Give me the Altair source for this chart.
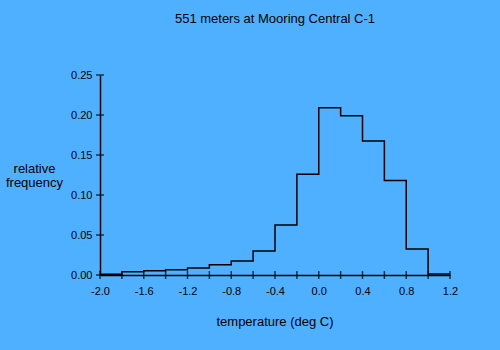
import altair as alt
import pandas as pd

# bin edges (deg C) and relative frequency of each bin
bin_starts = [-2.0, -1.8, -1.6, -1.4, -1.2, -1.0, -0.8, -0.6, -0.4, -0.2,
              0.0, 0.2, 0.4, 0.6, 0.8, 1.0]
bin_end = 1.2
freqs = [0.001, 0.0041, 0.0054, 0.0066, 0.0087, 0.0129, 0.0175, 0.030,
         0.0625, 0.126, 0.209, 0.199, 0.1675, 0.118, 0.0325, 0.0012]

x_ticks = [-2.0, -1.8, -1.6, -1.4, -1.2, -1.0, -0.8, -0.6, -0.4, -0.2,
           0.0, 0.2, 0.4, 0.6, 0.8, 1.0, 1.2]
x_labels = [-2.0, -1.6, -1.2, -0.8, -0.4, 0.0, 0.4, 0.8, 1.2]
y_ticks = [0.0, 0.05, 0.10, 0.15, 0.20, 0.25]

BG = "#4FB0FF"
FONT = "Liberation Sans"

step_df = pd.DataFrame({
    "temp": bin_starts + [bin_end],
    "freq": freqs + [freqs[-1]],
})
xt_df = pd.DataFrame({"temp": x_ticks})
yt_df = pd.DataFrame({"freq": y_ticks})

xscale = alt.Scale(domain=[-2.0, 1.2], nice=False, zero=False)
yscale = alt.Scale(domain=[0, 0.25], nice=False)

x_axis = alt.Axis(
    values=x_labels, ticks=False, grid=False,
    labelExpr="replace(format(datum.value, '.1f'), '\u2212', '-')",
    labelOverlap=False, labelFlush=False,
    domainColor="black", domainWidth=1.5, labelColor="black",
    labelFont=FONT, labelFontSize=11, labelPadding=10,
    title="temperature (deg C)", titleFont=FONT, titleFontSize=13,
    titleFontWeight="normal", titleColor="black",
    titleX=174.5, titleY=50, titleBaseline="alphabetic", titleAlign="center",
)
y_axis = alt.Axis(
    values=y_ticks, format=".2f", ticks=False, grid=False,
    labelOverlap=False, labelFlush=False,
    domainColor="black", domainWidth=1.5, labelColor="black",
    labelFont=FONT, labelFontSize=11, labelPadding=8,
    title=["relative", "frequency"], titleFont=FONT, titleFontSize=13,
    titleFontWeight="normal", titleColor="black", titleAngle=0,
    titleX=-66, titleY=97.25, titleBaseline="alphabetic", titleAlign="center",
    titleLineHeight=14,
)

step = alt.Chart(step_df).mark_line(
    interpolate="step-after", color="black", strokeWidth=1.5
).encode(
    x=alt.X("temp:Q", scale=xscale, axis=x_axis),
    y=alt.Y("freq:Q", scale=yscale, axis=y_axis),
)

xticks = alt.Chart(xt_df).mark_tick(
    orient="vertical", color="black", size=8, thickness=1.5
).encode(
    x=alt.X("temp:Q", scale=xscale, axis=x_axis),
    y=alt.value(200),
)

yticks = alt.Chart(yt_df).mark_tick(
    orient="horizontal", color="black", size=8, thickness=1.5
).encode(
    y=alt.Y("freq:Q", scale=yscale, axis=y_axis),
    x=alt.value(0),
)

chart = alt.layer(step, xticks, yticks).properties(
    width=350, height=200,
    autosize=alt.AutoSizeParams(type="none"),
    padding={"left": 100, "top": 75, "right": 50, "bottom": 75},
    background=BG,
    title=alt.TitleParams(
        "551 meters at Mooring Central C-1", font=FONT, fontSize=13,
        fontWeight="normal", color="black", anchor="middle", frame="group",
        baseline="alphabetic", offset=33,
    ),
).configure_view(stroke=None)

chart.save("out.html", embed_options={"renderer": "svg", "actions": False})
